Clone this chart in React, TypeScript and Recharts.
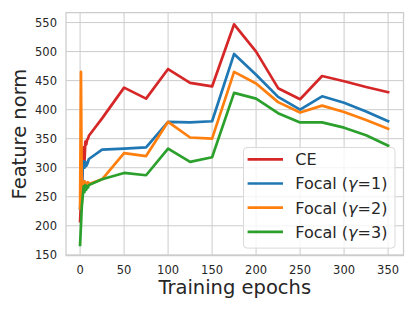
import React from 'react';
import { LineChart, Line, XAxis, YAxis, CartesianGrid, Legend, ReferenceArea, Label } from 'recharts';

const epochs = [0, 1, 2, 3, 4, 5, 6, 7, 8, 9, 10, 25, 50, 75, 100, 125, 150, 175, 200, 225, 250, 275, 300, 325, 350];
const ce = [208, 240, 270, 300, 335, 310, 345, 340, 348, 350, 355, 385, 438, 419, 470, 446, 440, 547, 500, 437, 418, 458, 449, 439, 430];
const focal1 = [230, 245, 270, 300, 311, 300, 310, 303, 306, 310, 315, 331, 333, 335, 379, 378, 380, 496, 460, 422, 400, 423, 412, 397, 380];
const focal2 = [230, 465, 240, 270, 260, 277, 265, 274, 270, 275, 272, 280, 325, 320, 379, 352, 350, 465, 445, 413, 395, 407, 396, 382, 367];
const focal3 = [167, 200, 234, 250, 268, 258, 270, 262, 268, 266, 270, 280, 291, 287, 333, 310, 318, 429, 419, 394, 378, 378, 369, 356, 338];

const seriesNames = ['CE', 'Focal (γ=1)', 'Focal (γ=2)', 'Focal (γ=3)'];
const seriesKeys = ['ce', 'focal1', 'focal2', 'focal3'];
const seriesColors = ['#d62728', '#1f77b4', '#ff7f0e', '#2ca02c'];
const seriesValues = [ce, focal1, focal2, focal3];

const xTicks = [0, 50, 100, 150, 200, 250, 300, 350];
const yTicks = [150, 200, 250, 300, 350, 400, 450, 500, 550];
const xDomain = [-16, 367.5];
const yDomain = [148.8, 567];

const xLabel = 'Training epochs';
const yLabel = 'Feature norm';

const data = epochs.map((e, i) => {
  const row: Record<string, number> = { epoch: e };
  seriesKeys.forEach((k, j) => {
    row[k] = seriesValues[j][i];
  });
  return row;
});

const FONT = '"DejaVu Sans", sans-serif';
const TEXT = '#262626';
const GRID = '#cccccc';

const renderName = (name: string) => {
  const parts = String(name).split('γ');
  const out: React.ReactNode[] = [];
  parts.forEach((part, i) => {
    if (i > 0) out.push(<tspan key={`g${i}`} fontStyle="italic">γ</tspan>);
    out.push(<tspan key={`p${i}`}>{part}</tspan>);
  });
  return out;
};

const renderLegend = (props: any) => {
  const payload = props.payload || [];
  return (
    <svg width={153} height={102} style={{ display: 'block', overflow: 'visible' }}>
      <rect x={0.5} y={0.5} width={151.5} height={100.6} rx={3.5} ry={3.5}
        fill="rgba(255,255,255,0.8)" stroke="#d9d9d9" strokeWidth={1} />
      {payload.map((p: any, i: number) => {
        const cy = 12.3 + i * 24.2;
        return (
          <g key={String(p.value)}>
            <line x1={4.6} x2={40} y1={cy} y2={cy} stroke={p.color} strokeWidth={2.7} />
            <text x={52.3} y={cy + 5.8} fontFamily={FONT} fontSize={16} fill={TEXT}>{renderName(p.value)}</text>
          </g>
        );
      })}
    </svg>
  );
};

export default function App() {
  return (
    <div style={{ position: 'absolute', left: 0, top: 0, width: 415, height: 311, background: '#fff' }}>
      <LineChart width={415} height={311} data={data}
        margin={{ top: 12.7, right: 11.5, bottom: 0, left: 0 }}>
        <CartesianGrid stroke={GRID} strokeWidth={1} horizontalValues={yTicks} verticalValues={xTicks} />
        <ReferenceArea x1={xDomain[0]} x2={xDomain[1]} y1={yDomain[0]} y2={yDomain[1]}
          fill="none" fillOpacity={0} stroke={GRID} strokeWidth={1.25} ifOverflow="visible" />
        <XAxis dataKey="epoch" type="number" domain={xDomain} ticks={xTicks} allowDataOverflow
          height={55.5} tickSize={0} tickMargin={10} axisLine={false} tickLine={false}
          tick={{ fontFamily: FONT, fontSize: 11.5, fill: TEXT }}>
          <Label content={(p: any) => {
            const vb = p.viewBox || {};
            return (
              <text x={vb.x + vb.width / 2} y={vb.y + 38.5} textAnchor="middle"
                fontFamily={FONT} fontSize={19.5} fill={TEXT}>{xLabel}</text>
            );
          }} />
        </XAxis>
        <YAxis type="number" domain={yDomain} ticks={yTicks} allowDataOverflow
          width={66} tickSize={0} tickMargin={9} axisLine={false} tickLine={false}
          tick={{ fontFamily: FONT, fontSize: 11.5, fill: TEXT }}>
          <Label content={(p: any) => {
            const vb = p.viewBox || {};
            const cx = 26.5;
            const cy = vb.y + vb.height / 2;
            return (
              <text x={cx} y={cy} textAnchor="middle" transform={`rotate(-90 ${cx} ${cy})`}
                fontFamily={FONT} fontSize={19.5} fill={TEXT}>{yLabel}</text>
            );
          }} />
        </YAxis>
        {seriesKeys.map((k, i) => (
          <Line key={k} type="linear" dataKey={k} name={seriesNames[i]} stroke={seriesColors[i]}
            strokeWidth={2.7} dot={false} activeDot={false} isAnimationActive={false}
            strokeLinejoin="round" strokeLinecap="square" />
        ))}
        <Legend layout="vertical" align="center" verticalAlign="middle" content={renderLegend}
          wrapperStyle={{ position: 'absolute', left: 242.7, top: 146.7, width: 153, height: 102 }} />
      </LineChart>
    </div>
  );
}
